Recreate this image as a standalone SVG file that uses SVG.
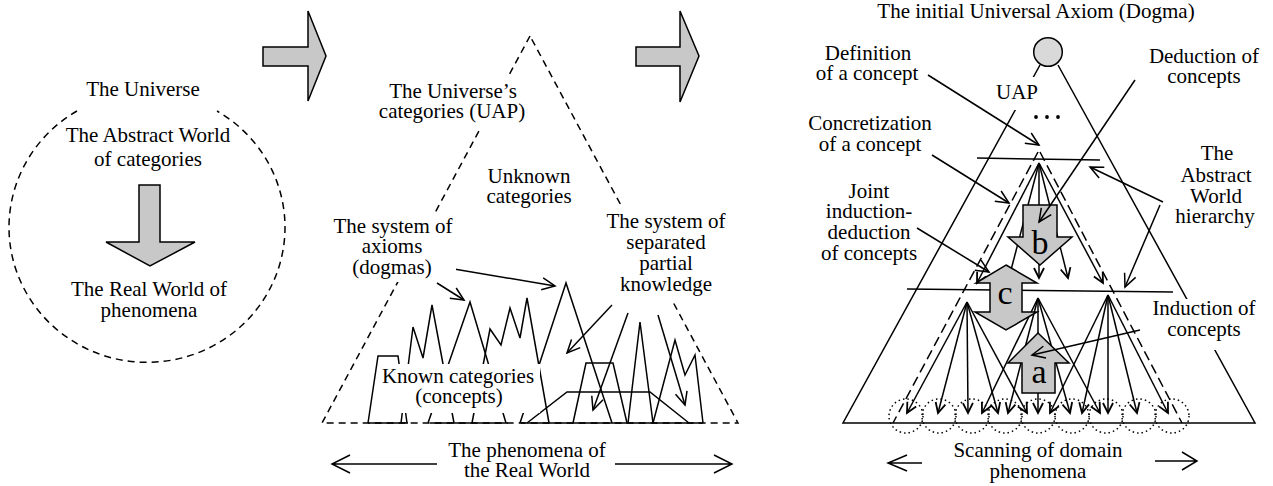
<svg xmlns="http://www.w3.org/2000/svg" width="1273" height="486" viewBox="0 0 1273 486">
<style>
.t{font-family:"Liberation Serif","Times New Roman",Times,serif;font-size:21px;fill:#000;text-anchor:middle}
.big{font-size:34px}
.ln{stroke:#000;stroke-width:1.5;fill:none}
.ds{stroke-dasharray:7 5}
.dt{stroke-dasharray:1.5 3}
.blk{fill:#c8c8c8;stroke:#000;stroke-width:1.5}
.bg{fill:#fff;stroke:none}
.ar{marker-end:url(#av)}
.fa{marker-end:url(#fv)}
</style>
<defs>
<marker id="av" markerUnits="userSpaceOnUse" orient="auto" refX="0" refY="0" markerWidth="20" markerHeight="20" overflow="visible">
<path d="M-13,-6 L0,0 L-13,6" fill="none" stroke="#000" stroke-width="1.5"/>
</marker>
<marker id="fv" markerUnits="userSpaceOnUse" orient="auto" refX="0" refY="0" markerWidth="20" markerHeight="20" overflow="visible">
<path d="M-10,-5 L0,0 L-10,5" fill="none" stroke="#000" stroke-width="1.8"/>
</marker>
</defs>

<!-- Left panel -->
<g id="universe">
<path class="ln ds" d="M77 111 A138 135 0 1 0 217 111"/>
<text class="t" x="143" y="96">The Universe</text>
</g>
<g id="abstract-world">
<text class="t"><tspan x="148" y="142">The Abstract World</tspan><tspan x="148" y="166">of categories</tspan></text>
</g>
<g id="down-arrow">
<polygon class="blk" points="139,185 160,185 160,242 195,242 150,266 106,242 139,242"/>
</g>
<g id="real-world">
<text class="t"><tspan x="149" y="296">The Real World of</tspan><tspan x="149" y="317">phenomena</tspan></text>
</g>

<g id="step-arrows">
<polygon class="blk" points="263,47 308,47 308,11 326,56 308,101 308,66 263,66"/>
<polygon class="blk" points="636,47 680,47 680,11 699,56 680,102 680,66 636,66"/>
</g>

<!-- Middle panel -->
<g id="middle-triangle">
<path class="ln ds" d="M530 36 L322 423 L738 423 Z"/>
<path class="ln" d="M368 423 H408 M430 423 H508 M521 423 H703"/>
</g>
<g id="middle-shapes">
<polyline class="ln" points="368,423 378,356 398,356 407,423"/>
<polyline class="ln" points="401,423 413,327 423,358 432,305 454,423"/>
<polyline class="ln" points="428,423 470,302 506,423"/>
<polyline class="ln" points="472,423 490,329 501,345 510,308 520,338 527,298 549,423"/>
<polyline class="ln" points="520,423 566,283 612,423"/>
<polyline class="ln" points="527,423 567,392 650,392 689,423"/>
<polyline class="ln" points="573,423 586,363 613,363 627,423"/>
<polyline class="ln" points="628,423 640,322 653,423"/>
<polyline class="ln" points="653,423 675,340 685,375 695,355 703,423"/>
</g>
<g id="middle-connectors">
<line class="ln ar" x1="437" y1="283" x2="464" y2="300"/>
<line class="ln ar" x1="454" y1="269" x2="555" y2="286"/>
<line class="ln ar" x1="612" y1="305" x2="567" y2="353"/>
<line class="ln ar" x1="628" y1="313" x2="593" y2="410"/>
<line class="ln ar" x1="658" y1="315" x2="685" y2="405"/>
<path class="ln" d="M437 464 H332 M350 455 L332 464 L350 473"/>
<path class="ln" d="M615 464 H732 M714 455 L732 464 L714 473"/>
</g>
<g id="uap-label">
<rect class="bg" x="376" y="75" width="154" height="53"/>
<text class="t"><tspan x="453" y="98">The Universe’s</tspan><tspan x="452" y="118">categories (UAP)</tspan></text>
</g>
<g id="unknown">
<text class="t"><tspan x="529" y="183">Unknown</tspan><tspan x="529" y="203">categories</tspan></text>
</g>
<g id="axioms">
<rect class="bg" x="330" y="212" width="126" height="70"/>
<text class="t"><tspan x="393" y="233">The system of</tspan><tspan x="392" y="253">axioms</tspan><tspan x="392" y="274">(dogmas)</tspan></text>
</g>
<g id="partial-knowledge">
<rect class="bg" x="604" y="208" width="124" height="92"/>
<text class="t"><tspan x="666" y="228">The system of</tspan><tspan x="666" y="249">separated</tspan><tspan x="666" y="270">partial</tspan><tspan x="666" y="291">knowledge</tspan></text>
</g>
<g id="known">
<rect class="bg" x="378" y="364" width="162" height="49"/>
<text class="t"><tspan x="458" y="383">Known categories</tspan><tspan x="459" y="403">(concepts)</tspan></text>
</g>
<g id="phenomena">
<text class="t"><tspan x="527" y="457">The phenomena of</tspan><tspan x="527" y="477">the Real World</tspan></text>
</g>

<!-- Right panel -->
<g id="right-frame">
<path class="ln" d="M1040 65 L843 423 H1255 L1058 65"/>
<line class="ln" x1="977" y1="158" x2="1100" y2="160"/>
<line class="ln" x1="907" y1="289" x2="1173" y2="292"/>
<path class="ln" d="M1038 152 L893 423 M1040 152 L1182 423" stroke-dasharray="10 5"/>
</g>
<g id="dotted-scans">
<circle class="ln dt" cx="906" cy="416" r="17"/>
<circle class="ln dt" cx="939" cy="416" r="17"/>
<circle class="ln dt" cx="972" cy="416" r="17"/>
<circle class="ln dt" cx="1005" cy="416" r="17"/>
<circle class="ln dt" cx="1038" cy="416" r="17"/>
<circle class="ln dt" cx="1072" cy="416" r="17"/>
<circle class="ln dt" cx="1106" cy="416" r="17"/>
<circle class="ln dt" cx="1139" cy="416" r="17"/>
<circle class="ln dt" cx="1172" cy="416" r="17"/>
</g>
<g id="fans">
<line class="ln fa" x1="1039" y1="163" x2="977" y2="283"/>
<line class="ln" x1="1039" y1="163" x2="1011" y2="270"/>
<line class="ln fa" x1="1039" y1="163" x2="1039" y2="278"/>
<line class="ln fa" x1="1039" y1="163" x2="1068" y2="278"/>
<line class="ln fa" x1="1039" y1="163" x2="1103" y2="283"/>
<line class="ln fa" x1="967" y1="302" x2="907" y2="413"/>
<line class="ln fa" x1="967" y1="302" x2="938" y2="413"/>
<line class="ln fa" x1="967" y1="302" x2="968" y2="413"/>
<line class="ln fa" x1="967" y1="302" x2="998" y2="413"/>
<line class="ln fa" x1="967" y1="302" x2="1027" y2="413"/>
<line class="ln fa" x1="1038" y1="298" x2="982" y2="413"/>
<line class="ln fa" x1="1038" y1="298" x2="1008" y2="413"/>
<line class="ln fa" x1="1038" y1="298" x2="1038" y2="413"/>
<line class="ln fa" x1="1038" y1="298" x2="1070" y2="413"/>
<line class="ln fa" x1="1038" y1="298" x2="1100" y2="413"/>
<line class="ln fa" x1="1108" y1="295" x2="1050" y2="413"/>
<line class="ln fa" x1="1108" y1="295" x2="1082" y2="413"/>
<line class="ln fa" x1="1108" y1="295" x2="1108" y2="413"/>
<line class="ln fa" x1="1108" y1="295" x2="1137" y2="413"/>
<line class="ln fa" x1="1108" y1="295" x2="1168" y2="413"/>
</g>
<g id="arrow-b">
<polygon class="blk" points="1023,205 1057,205 1057,237 1072,237 1040,265 1008,237 1023,237"/>
<text class="t big" x="1040" y="254">b</text>
</g>
<g id="arrow-c">
<polygon class="blk" points="1006,265 1037,283 1022,283 1022,312 1037,312 1006,330 975,312 990,312 990,283 976,283"/>
<text class="t big" x="1005" y="304">c</text>
</g>
<g id="arrow-a">
<polygon class="blk" points="1038,333 1069,363 1055,363 1055,393 1022,393 1022,363 1008,363"/>
<text class="t big" x="1039" y="383">a</text>
</g>
<g id="axiom-node">
<circle cx="1048" cy="52" r="14.3" fill="#d9d9d9" stroke="#000" stroke-width="1.5"/>
<text class="t" x="1036" y="18">The initial Universal Axiom (Dogma)</text>
</g>
<g id="uap-right">
<rect class="bg" x="994" y="77" width="44" height="33"/>
<text class="t" x="1017" y="99">UAP</text>
<circle cx="1036" cy="117" r="1.9"/>
<circle cx="1047" cy="117" r="1.9"/>
<circle cx="1058" cy="117" r="1.9"/>
</g>
<g id="right-connectors">
<line class="ln ar" x1="928" y1="75" x2="1039" y2="145"/>
<line class="ln ar" x1="1135" y1="80" x2="1039" y2="222"/>
<line class="ln ar" x1="932" y1="155" x2="1009" y2="203"/>
<line class="ln ar" x1="917" y1="228" x2="989" y2="272"/>
<line class="ln ar" x1="1163" y1="202" x2="1090" y2="167"/>
<line class="ln ar" x1="1160" y1="205" x2="1125" y2="287"/>
<line class="ln ar" x1="1140" y1="330" x2="1032" y2="355"/>
<path class="ln" d="M922 463 H888 M907 455 L888 463 L907 471"/>
<path class="ln" d="M1155 461 H1197 M1182 452 L1197 461 L1182 470"/>
</g>
<g id="definition-label">
<text class="t"><tspan x="868" y="60">Definition</tspan><tspan x="867" y="80">of a concept</tspan></text>
</g>
<g id="deduction-label">
<text class="t"><tspan x="1204" y="63">Deduction of</tspan><tspan x="1204" y="83">concepts</tspan></text>
</g>
<g id="concretization-label">
<text class="t"><tspan x="870" y="130">Concretization</tspan><tspan x="870" y="151">of a concept</tspan></text>
</g>
<g id="joint-label">
<text class="t"><tspan x="869" y="198">Joint</tspan><tspan x="869" y="218">induction-</tspan><tspan x="869" y="239">deduction</tspan><tspan x="869" y="260">of concepts</tspan></text>
</g>
<g id="hierarchy-label">
<text class="t"><tspan x="1217" y="160">The</tspan><tspan x="1216" y="182">Abstract</tspan><tspan x="1216" y="203">World</tspan><tspan x="1215" y="223">hierarchy</tspan></text>
</g>
<g id="induction-label">
<rect class="bg" x="1150" y="299" width="108" height="51"/>
<text class="t"><tspan x="1204" y="315">Induction of</tspan><tspan x="1204" y="336">concepts</tspan></text>
</g>
<g id="scanning-label">
<text class="t"><tspan x="1038" y="457">Scanning of domain</tspan><tspan x="1038" y="478">phenomena</tspan></text>
</g>
</svg>
